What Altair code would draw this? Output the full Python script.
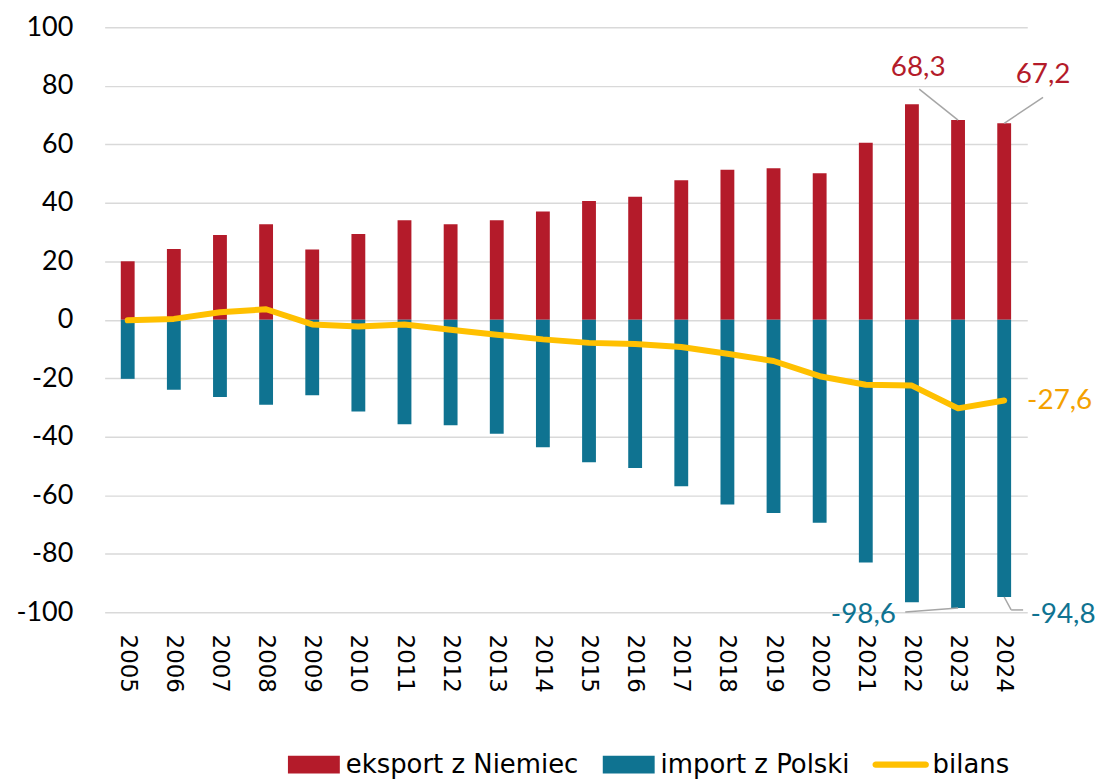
import altair as alt
import pandas as pd

years = [str(y) for y in range(2005, 2025)]
eksport = [20.0, 24.2, 29.0, 32.7, 24.0, 29.3, 34.0, 32.7, 34.0, 37.0,
           40.6, 42.1, 47.7, 51.3, 51.8, 50.1, 60.5, 73.7, 68.3, 67.2]
imports = [-20.2, -23.9, -26.4, -29.1, -25.8, -31.4, -35.7, -36.1, -39.0, -43.6,
           -48.7, -50.7, -56.9, -63.2, -66.1, -69.4, -83.0, -96.6, -98.6, -94.8]
bilans = [-0.2, 0.3, 2.6, 3.6, -1.6, -2.3, -1.6, -3.4, -5.1, -6.7,
          -7.9, -8.3, -9.3, -11.6, -14.1, -19.3, -22.2, -22.5, -30.3, -27.6]
series = ["eksport z Niemiec", "import z Polski", "bilans"]
y_ticks = [-100, -80, -60, -40, -20, 0, 20, 40, 60, 80, 100]

RED = "#B41B2A"
TEAL = "#0F7391"
YELLOW = "#FFC000"
ORANGE = "#F4A100"
GRAY = "#A6A6A6"
FONT = "Lato"

df = pd.DataFrame({"rok": years, "eksport": eksport, "import": imports, "bilans": bilans})


def lab(v):
    return f"{v:.1f}".replace(".", ",")


df["l_eks"] = [lab(v) for v in eksport]
df["l_imp"] = [lab(v) for v in imports]
df["l_bil"] = [lab(v) for v in bilans]

xs = alt.X("rok:N", sort=years, title=None,
           scale=alt.Scale(paddingInner=0.7, paddingOuter=0.35),
           axis=alt.Axis(labelAngle=90, labelFont="DejaVu Sans", labelFontSize=23,
                         labelColor="#000000", labelPadding=22, domain=False,
                         ticks=False, grid=False))
ys = alt.Y("v:Q", title=None,
           scale=alt.Scale(domain=[-100, 100], nice=False, zero=False),
           axis=alt.Axis(values=y_ticks, labelFont=FONT, labelFontSize=27,
                         labelExpr="toString(datum.value)",
                         labelColor="#000000", labelPadding=32, domain=False,
                         ticks=False, grid=True, gridColor="#D9D9D9", gridWidth=1.5))

base = alt.Chart(df)

bars_e = base.transform_calculate(v="datum.eksport").mark_bar(color=RED).encode(x=xs, y=ys)
bars_i = base.transform_calculate(v="datum.import").mark_bar(color=TEAL).encode(x=xs, y=ys)
line_b = base.transform_calculate(v="datum.bilans").mark_line(
    color=YELLOW, strokeWidth=6, strokeCap="round", strokeJoin="round").encode(x=xs, y=ys)


def pt(field, year):
    return base.transform_filter(alt.FieldEqualPredicate(field="rok", equal=year)) \
        .transform_calculate(v=f"datum['{field}']")


def rule(field, year, **off):
    return pt(field, year).mark_rule(color=GRAY, strokeWidth=1.5, **off).encode(
        x=alt.X("rok:N", sort=years, bandPosition=0.5),
        x2=alt.X2("rok", bandPosition=0.5),
        y=ys, y2=alt.Y2("v"))


def text(field, lfield, year, color, **kw):
    return pt(field, year).mark_text(color=color, font=FONT, fontSize=28,
                                     baseline="middle", **kw).encode(
        x=xs, y=ys, text=f"{lfield}:N")


r1 = rule("eksport", "2023", x2Offset=-39, y2Offset=-31)
r2 = rule("eksport", "2024", x2Offset=39, y2Offset=-26)
r3 = rule("import", "2023", x2Offset=-53, y2Offset=4)
r4 = rule("import", "2024", x2Offset=7, y2Offset=13)
r5 = rule("import", "2024", xOffset=7, yOffset=13, x2Offset=19, y2Offset=13)

t1 = text("eksport", "l_eks", "2023", RED, align="center", dx=-40, dy=-52)
t2 = text("eksport", "l_eks", "2024", RED, align="center", dx=39, dy=-48)
t3 = text("import", "l_imp", "2023", TEAL, align="center", dx=-95, dy=7)
t4 = text("import", "l_imp", "2024", TEAL, align="center", dx=59, dy=18)
t5 = text("bilans", "l_bil", "2024", ORANGE, align="left", dx=23, dy=1)

legend_df = pd.DataFrame({"s": series})
rect_path = "M-0.93,-0.32H0.93V0.32H-0.93Z"
line_path = ("M-0.9,-0.11H0.9A0.11,0.11 0 0 1 0.9,0.11H-0.9"
             "A0.11,0.11 0 0 1 -0.9,-0.11Z")
leg = alt.Legend(title=None, orient="none", direction="horizontal",
                 legendX=182, legendY=712,
                 labelFont="DejaVu Sans", labelFontSize=26,
                 labelColor="#000000", labelLimit=400,
                 symbolSize=3136, labelOffset=4,
                 columnPadding=22, symbolStrokeWidth=0,
                 symbolOpacity=1)
legend_layer = alt.Chart(legend_df).transform_filter("false").mark_point(
    filled=True, opacity=1).encode(
    color=alt.Color("s:N", scale=alt.Scale(domain=series, range=[RED, TEAL, YELLOW]),
                    legend=leg),
    shape=alt.Shape("s:N", scale=alt.Scale(domain=series,
                                           range=[rect_path, rect_path, line_path]),
                    legend=leg),
)

chart = alt.layer(
    bars_e, bars_i, line_b, r1, r2, r3, r4, r5, t1, t2, t3, t4, t5, legend_layer
).properties(
    width=926, height=587, autosize="none",
    padding={"left": 97, "top": 18, "right": 70, "bottom": 166},
    background="white",
).configure_view(stroke=None)

chart.save("out.html", embed_options={"renderer": "svg", "actions": False})
